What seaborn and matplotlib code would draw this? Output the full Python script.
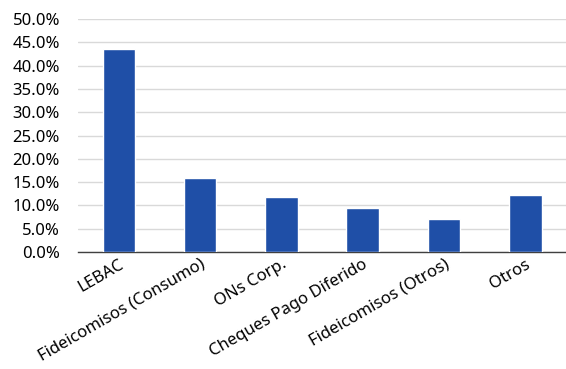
import matplotlib
matplotlib.use("Agg")
import matplotlib.pyplot as plt
import seaborn as sns
import pandas as pd
from matplotlib.ticker import FuncFormatter, MultipleLocator

# data (percent)
categories = ["LEBAC", "Fideicomisos (Consumo)", "ONs Corp.",
              "Cheques Pago Diferido", "Fideicomisos (Otros)", "Otros"]
shares = [43.6, 15.9, 11.8, 9.4, 7.1, 12.2]

df = pd.DataFrame({"cat": categories, "share": shares})

sns.set_style("white")
plt.rcParams["font.family"] = ["Noto Sans", "DejaVu Sans"]

fig = plt.figure(figsize=(5.66, 3.69), dpi=100)
ax = fig.add_axes([0.138, 0.317, 0.862, 0.631])

sns.barplot(data=df, x="cat", y="share", color="#1f4fa7", width=0.4,
            saturation=1, ax=ax, zorder=3)

ax.set_ylim(0, 50)
ax.yaxis.set_major_locator(MultipleLocator(5))
ax.yaxis.set_major_formatter(FuncFormatter(lambda v, p: f"{v:.1f}%"))
ax.grid(axis="y", color="#d9d9d9", linewidth=1, zorder=0)
ax.set_xlim(-0.5, 5.5)
ax.set_xlabel("")
ax.set_ylabel("")

for s in ["top", "right", "left"]:
    ax.spines[s].set_visible(False)
ax.spines["bottom"].set_color("#404040")
ax.spines["bottom"].set_linewidth(1)

ax.tick_params(axis="both", length=0, labelsize=12, colors="black")
ax.tick_params(axis="y", pad=13)
ax.tick_params(axis="x", pad=3)
plt.setp(ax.get_xticklabels(), rotation=30, ha="right", rotation_mode="anchor")

fig.savefig("out.png", dpi=100)
